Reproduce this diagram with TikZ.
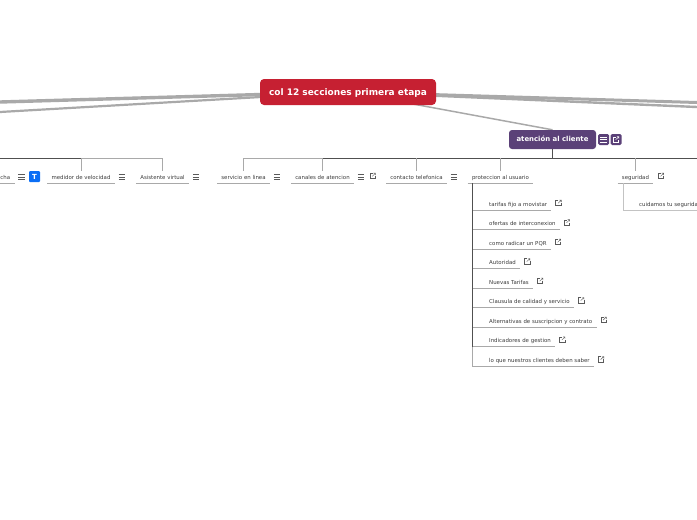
\documentclass[tikz,border=0pt]{standalone}
\usepackage{fontspec}
\setmainfont{DejaVu Sans}
\usetikzlibrary{backgrounds}
\definecolor{rootred}{HTML}{C62032}
\definecolor{mainpurple}{HTML}{5B4178}
\definecolor{iconblue}{HTML}{0B6EF5}
\definecolor{linegray}{HTML}{A9A9A9}
\definecolor{darkline}{HTML}{505050}
\definecolor{textgray}{HTML}{3A3A3A}
\definecolor{icongray}{HTML}{5A5A5A}
\tikzset{
    rootnode/.style={fill=rootred, rounded corners=4pt, text=white, font=\fontsize{9}{10}\selectfont\bfseries, text height=7pt, text depth=1pt, minimum width=176pt, minimum height=26pt, inner sep=0pt},
    mainnode/.style={fill=mainpurple, rounded corners=3pt, text=white, font=\fontsize{6.9}{8}\selectfont\bfseries, text height=5pt, text depth=1.2pt, minimum width=87pt, minimum height=19pt, inner sep=0pt},
    leaf/.style={text=textgray, font=\fontsize{5.43}{6}\selectfont, text height=4.8pt, text depth=0.4pt, minimum height=12pt, inner xsep=4.2pt, inner ysep=0pt},
    tnode/.style={fill=iconblue, rounded corners=1pt, text=white, font=\fontsize{7}{8}\selectfont\bfseries, minimum size=11pt, inner sep=0pt},
    iconbox/.style={fill=mainpurple, rounded corners=1.5pt, minimum size=11pt, inner sep=0pt},
    under/.style={linegray, line width=1pt},
    branch/.style={linegray, line width=1pt},
    darkbranch/.style={darkline, line width=1pt},
    menuicon/.pic={
        \draw[line width=0.55pt] (-3.2,-2.4) -- (3.2,-2.4) (-3.2,0) -- (3.2,0) (-3.2,2.4) -- (3.2,2.4);
    },
    linkicon/.pic={
        \draw[line width=0.45pt] (0,-2.6) -- (-2.8,-2.6) -- (-2.8,2.6) -- (2.6,2.6) -- (2.6,0);
        \draw[line width=0.45pt] (-0.4,0.3) -- (2.6,-2.6) (0.8,-2.8) -- (2.8,-2.8) -- (2.8,-0.8);
    },
}
\begin{document}
\begin{tikzpicture}[x=1pt, y=-1pt]
    \useasboundingbox (0,0) rectangle (697,520);
    \clip (0,0) rectangle (697,520);

    \node[rootnode] (root) at (348,92) {col 12 secciones primera etapa};
    \node[mainnode] (atencion) at (552.5,139.5) {atención al cliente};
    \node[iconbox] (atencionmenu) at (603.5,139.5) {};
    \node[iconbox] (atencionlink) at (616,139.5) {};
    \pic[white] at (atencionmenu) {menuicon};
    \pic[white] at (atencionlink) {linkicon};

    % lines going off the page
    \coordinate (leftA) at (0,102);
    \coordinate (leftB) at (0,112);
    \coordinate (rightA) at (697,102.5);
    \coordinate (rightB) at (697,107);
    \begin{pgfonlayer}{background}
        \draw[linegray, line width=3.4pt] (root.center) -- (leftA);
        \draw[linegray, line width=2.2pt] (root.center) -- (leftB);
        \draw[linegray, line width=3pt] (root.center) -- (rightA);
        \draw[linegray, line width=2.4pt] (root.center) -- (rightB);
        \draw[linegray, line width=1.5pt] (root.center) -- (atencion.north);
    \end{pgfonlayer}

    % first row
    \node[leaf, anchor=east] (ficha) at (14.5,177) {cha};
    \node[tnode] (fichaT) at (34.5,176.5) {T};
    \node[leaf] (medidor) at (81,177) {medidor de velocidad};
    \node[leaf] (asistente) at (162.5,177) {Asistente virtual};
    \node[leaf] (servicio) at (243.5,177) {servicio en linea};
    \node[leaf] (canales) at (322.5,177) {canales de atencion};
    \node[leaf] (contacto) at (416.5,177) {contacto telefonica};
    \node[leaf] (proteccion) at (500.5,177) {proteccion al usuario};
    \node[leaf] (seguridad) at (635.5,177) {seguridad};

    \foreach \name in {ficha,medidor,asistente,servicio,canales,contacto,proteccion,seguridad}
        \draw[under] (\name.south west) -- (\name.south east);
    \foreach \name in {ficha,medidor,asistente,servicio,canales,contacto}
        \pic[icongray] at ([xshift=7pt]\name.east) {menuicon};
    \pic[icongray] at ([xshift=18.5pt,yshift=1pt]canales.east) {linkicon};
    \pic[icongray] at ([xshift=7.5pt,yshift=1pt]seguridad.east) {linkicon};

    % buses
    \coordinate (busA) at (0,158);
    \coordinate (busB) at (697,158);
    \draw[darkline, line width=1pt] (busA) -- (medidor.north |- busA);
    \draw[branch] (medidor.north |- busA) -- (asistente.north |- busA);
    \draw[branch] (servicio.north |- busA) -- (canales.north |- busA);
    \draw[darkbranch] (canales.north |- busA) -- (busB);
    \draw[darkline, line width=1.6pt] (atencion.south) -- (atencion.south |- busB);
    \foreach \name in {medidor,asistente,servicio,canales,contacto,proteccion,seguridad}
        \draw[branch] (\name.north) -- (\name.north |- busA);

    % protection items
    \coordinate (trunk) at (472.5,183);
    \foreach \name/\txt/\rowy in {tarifas/tarifas fijo a movistar/204, ofertas/ofertas de interconexion/223.5, radicar/como radicar un PQR/243, autoridad/Autoridad/262.3, nuevas/Nuevas Tarifas/281.8, clausula/Clausula de calidad y servicio/301.3, alternativas/Alternativas de suscripcion y contrato/320.8, indicadores/Indicadores de gestion/340.7, clientes/lo que nuestros clientes deben saber/360.3} {
        \node[leaf, anchor=west] (\name) at (484.8,\rowy) {\txt};
        \pic[icongray] at ([xshift=7pt,yshift=1pt]\name.east) {linkicon};
    }
    \foreach \name in {tarifas,ofertas,radicar,autoridad,nuevas,clausula,alternativas,indicadores}
        \draw[under] (trunk |- \name.south) -- (\name.south east);
    \draw[under] (trunk |- indicadores.south) -- (trunk |- clientes.south) -- (clientes.south east);
    \draw[darkbranch] (trunk) -- (trunk |- indicadores.south);

    % security item
    \coordinate (sectrunk) at (623.5,183);
    \node[leaf, anchor=west] (cuidamos) at (634.8,204) {cuidamos tu seguridad};
    \draw[linegray!70, line width=1pt] (sectrunk) -- (sectrunk |- cuidamos.south) -- (cuidamos.south east);
\end{tikzpicture}
\end{document}
